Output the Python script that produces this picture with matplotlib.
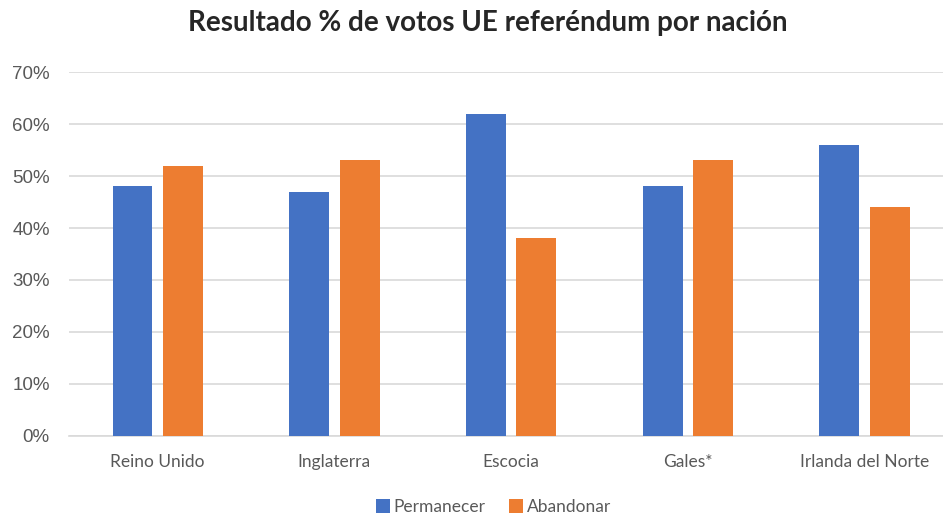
import numpy as np
import matplotlib.pyplot as plt
from matplotlib.ticker import PercentFormatter

# Datos del gráfico
naciones = ['Reino Unido', 'Inglaterra', 'Escocia', 'Gales*', 'Irlanda del Norte']
permanecer = [48, 47, 62, 48, 56]
abandonar = [52, 53, 38, 53, 44]

plt.rcParams['font.family'] = ['Lato', 'DejaVu Sans']

fig = plt.figure(figsize=(9.43, 5.17), dpi=100)
# el gráfico original está recortado a la derecha
ax = fig.add_axes([0.0735, 0.1567, 0.937, 0.704])

x = np.arange(len(naciones))
ancho = 0.226
desp = 0.1425
ax.bar(x - desp, permanecer, ancho, color='#4472C4', label='Permanecer', zorder=3)
ax.bar(x + desp, abandonar, ancho, color='#ED7D31', label='Abandonar', zorder=3)

ax.set_xlim(-0.5, len(naciones) - 0.5)
ax.set_ylim(0, 70)
ax.set_yticks(np.arange(0, 71, 10))
ax.yaxis.set_major_formatter(PercentFormatter(decimals=0))
ax.set_xticks(x)
ax.set_xticklabels(naciones)

ax.grid(axis='y', color='#D9D9D9', linewidth=1.2, zorder=0)
for s in ['top', 'right', 'left']:
    ax.spines[s].set_visible(False)
ax.spines['bottom'].set_color('#D9D9D9')
ax.spines['bottom'].set_linewidth(1.2)
ax.tick_params(axis='both', length=0, colors='#595959')
ax.tick_params(axis='x', pad=13, labelsize=12.5)
ax.tick_params(axis='y', pad=14)
for t in ax.get_yticklabels():
    t.set_fontfamily(['Liberation Sans', 'DejaVu Sans'])
    t.set_fontsize(13.5)

fig.suptitle('Resultado % de votos UE referéndum por nación', fontsize=20,
             fontweight='bold', color='#262626', x=0.517, y=0.98)

ax.legend(loc='center', bbox_to_anchor=(0.48, -0.195), ncol=2, frameon=False,
          fontsize=12.5, labelcolor='#595959', handlelength=0.8, handleheight=0.8,
          handletextpad=0.2, columnspacing=1.4)

plt.savefig('out.png', dpi=100)
